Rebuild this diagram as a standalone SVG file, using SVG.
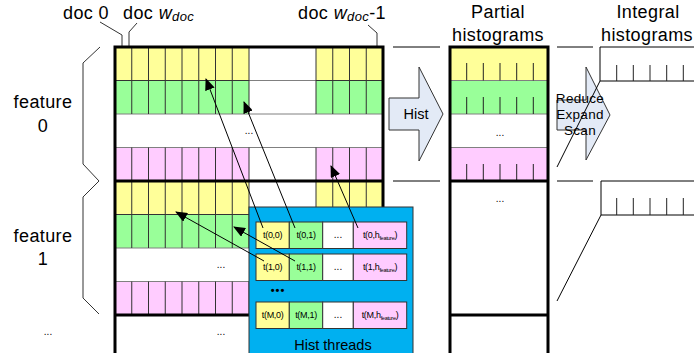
<svg xmlns="http://www.w3.org/2000/svg" width="694" height="353" viewBox="0 0 694 353">
<defs>
<style>
text{font-family:"Liberation Sans",Arial,sans-serif;fill:#000}
.big{font-size:18px;letter-spacing:0.4px}
.y{fill:#FFFF99}.g{fill:#99FF99}.p{fill:#FFCCFF}
.cell{stroke:#333;stroke-width:1}
.sep{stroke:#808080;stroke-width:1;fill:none}
.thick{stroke:#000;stroke-width:3;fill:none}
.thin{stroke:#000;stroke-width:1;fill:none}
.tick{stroke:#222;stroke-width:1}
.lead{stroke:#333;stroke-width:1;fill:none}
.dots{font-size:10px}
.tc{font-size:9px;text-anchor:middle;letter-spacing:-0.3px}
.sub{font-size:5.5px}
.arr{fill:#E3EAF6;stroke:#333;stroke-width:1}
.conn{stroke:#000;stroke-width:1;fill:none;marker-end:url(#ah)}
</style>
<marker id="ah" markerWidth="12" markerHeight="10" refX="11" refY="5" orient="auto" markerUnits="userSpaceOnUse">
<path d="M0,0 L12,5 L0,10 z" fill="#000"/>
</marker>
</defs>
<rect width="694" height="353" fill="#fff"/>

<g id="labels">
<text class="big" x="63" y="19">doc 0</text>
<text class="big" x="123" y="19">doc <tspan font-style="italic">w</tspan><tspan font-style="italic" font-size="13" dy="2">doc</tspan></text>
<text class="big" x="298" y="19">doc <tspan font-style="italic">w</tspan><tspan font-style="italic" font-size="13" dy="2">doc</tspan><tspan dy="-2">-1</tspan></text>
<text class="big" x="43" y="108" text-anchor="middle">feature</text>
<text class="big" x="43" y="131.5" text-anchor="middle">0</text>
<text class="big" x="43" y="241.5" text-anchor="middle">feature</text>
<text class="big" x="43" y="265" text-anchor="middle">1</text>
<text class="dots" x="48" y="335" text-anchor="middle">...</text>
<text class="big" x="498" y="18" text-anchor="middle">Partial</text>
<text class="big" x="498" y="41" text-anchor="middle">histograms</text>
<text class="big" x="648" y="18" text-anchor="middle">Integral</text>
<text class="big" x="647" y="41" text-anchor="middle" letter-spacing="0">histograms</text>
<path class="lead" d="M100,22 L122,35 V57 M137,23 L129,32 V89 M368,25 L377,33 V58"/>
<path class="lead" d="M100,47 L83,63 V164 L99,181 L83,197 V298 L99,314"/>
</g>

<g id="doc-grid">
<rect class="y" x="115" y="47" width="134" height="33.5"/><rect class="y" x="316" y="47" width="67" height="33.5"/>
<rect class="g" x="115" y="80.5" width="134" height="33.5"/><rect class="g" x="316" y="80.5" width="67" height="33.5"/>
<rect class="p" x="115" y="147.5" width="134" height="33.5"/><rect class="p" x="316" y="147.5" width="67" height="33.5"/>
<rect class="y" x="115" y="181" width="134" height="33.5"/><rect class="y" x="316" y="181" width="67" height="33.5"/>
<rect class="g" x="115" y="214.5" width="134" height="33.5"/><rect class="g" x="316" y="214.5" width="67" height="33.5"/>
<rect class="p" x="115" y="281.5" width="134" height="33.5"/><rect class="p" x="316" y="281.5" width="67" height="33.5"/>
<path class="sep" d="M115,80.5 H383 M115,114 H383 M115,147.5 H383 M115,214.5 H383 M115,248 H383 M115,281.5 H383"/>
<path class="cell" d="M131.75,47 V114 M148.5,47 V114 M165.25,47 V114 M182,47 V114 M198.75,47 V114 M215.5,47 V114 M232.25,47 V114 M249,47 V114
M131.75,147.5 V248 M148.5,147.5 V248 M165.25,147.5 V248 M182,147.5 V248 M198.75,147.5 V248 M215.5,147.5 V248 M232.25,147.5 V248 M249,147.5 V248
M131.75,281.5 V315 M148.5,281.5 V315 M165.25,281.5 V315 M182,281.5 V315 M198.75,281.5 V315 M215.5,281.5 V315 M232.25,281.5 V315 M249,281.5 V315
M316,47 V114 M332.75,47 V114 M349.5,47 V114 M366.25,47 V114
M316,147.5 V248 M332.75,147.5 V248 M349.5,147.5 V248 M366.25,147.5 V248
M316,281.5 V315 M332.75,281.5 V315 M349.5,281.5 V315 M366.25,281.5 V315
M115,80.5 H249 M316,80.5 H383 M115,214.5 H249 M316,214.5 H383"/>
<path class="thick" d="M115,353 V47 H383 V353 M115,181 H383 M115,315 H383"/>
<text class="dots" x="249" y="134" text-anchor="middle">...</text>
<text class="dots" x="221" y="268" text-anchor="middle">...</text>
<text class="dots" x="221" y="335" text-anchor="middle">...</text>
</g>

<g id="hist-arrow">
<polygon class="arr" points="389,98 419,98 419,67 443,114 419,161 419,130 389,130"/>
<text x="416" y="119" font-size="14.5" text-anchor="middle">Hist</text>
</g>
<path class="thin" d="M393,47 H440 M393,181 H440"/>

<g id="partial-histograms">
<rect class="y" x="450" y="47" width="98" height="33.5"/>
<rect class="g" x="450" y="80.5" width="98" height="33.5"/>
<rect class="p" x="450" y="147.5" width="98" height="33.5"/>
<path class="sep" d="M450,80.5 H548 M450,114 H548 M450,147.5 H548"/>
<path class="tick" d="M466.7,63 V80.5 M483.3,63 V80.5 M500,63 V80.5 M516.7,63 V80.5 M533.3,63 V80.5
M466.7,97 V114 M483.3,97 V114 M500,97 V114 M516.7,97 V114 M533.3,97 V114
M466.7,164 V181 M483.3,164 V181 M500,164 V181 M516.7,164 V181 M533.3,164 V181"/>
<path class="thick" d="M450,353 V47 H548 V353 M450,181 H548 M450,315 H548"/>
<text class="dots" x="500" y="136" text-anchor="middle">...</text>
<text class="dots" x="500" y="202" text-anchor="middle">...</text>
</g>

<g id="reduce-arrow">
<polygon class="arr" points="557,100 586,100 586,67 610,115 586,160 586,130 557,130"/>
<text x="580" y="102.5" font-size="13.5" text-anchor="middle" letter-spacing="0.3">Reduce</text>
<text x="580" y="118.5" font-size="13.5" text-anchor="middle" letter-spacing="0.3">Expand</text>
<text x="580" y="134.5" font-size="13.5" text-anchor="middle" letter-spacing="0.3">Scan</text>
</g>
<path class="thin" d="M557,47 H593 M557,181 H593 M557,167 L600,81 M557,301 L601,215"/>

<g id="integral-histograms">
<path class="thin" d="M600,81 V47 H694 M600,81 H694 M601,215 V181 H694 M601,215 H694"/>
<path class="tick" d="M616.7,65 V81 M633.3,65 V81 M650,65 V81 M666.7,65 V81 M683.3,65 V81
M616.7,198 V215 M633.3,198 V215 M650,198 V215 M666.7,198 V215 M683.3,198 V215"/>
</g>

<g id="hist-threads">
<rect x="249" y="207" width="164" height="160" fill="#00B0F0" stroke="#333" stroke-width="1"/>
<g class="cell">
<rect class="y" x="256" y="222" width="33.3" height="26.5"/><rect class="g" x="289.3" y="222" width="33.4" height="26.5"/><rect x="322.7" y="222" width="30.6" height="26.5" fill="#fff"/><rect class="p" x="353.3" y="222" width="53.4" height="26.5"/>
<rect class="y" x="256" y="254" width="33.3" height="26.5"/><rect class="g" x="289.3" y="254" width="33.4" height="26.5"/><rect x="322.7" y="254" width="30.6" height="26.5" fill="#fff"/><rect class="p" x="353.3" y="254" width="53.4" height="26.5"/>
<rect class="y" x="256" y="302" width="33.3" height="26.5"/><rect class="g" x="289.3" y="302" width="33.4" height="26.5"/><rect x="322.7" y="302" width="30.6" height="26.5" fill="#fff"/><rect class="p" x="353.3" y="302" width="53.4" height="26.5"/>
</g>
<text class="tc" x="272.6" y="238">t(0,0)</text><text class="tc" x="306" y="238">t(0,1)</text><text class="dots" x="338" y="238" text-anchor="middle">...</text><text class="tc" x="380" y="238">t(0,h<tspan class="sub" dy="1.5">feature</tspan><tspan dy="-1.5">)</tspan></text>
<text class="tc" x="272.6" y="270">t(1,0)</text><text class="tc" x="306" y="270">t(1,1)</text><text class="dots" x="338" y="270" text-anchor="middle">...</text><text class="tc" x="380" y="270">t(1,h<tspan class="sub" dy="1.5">feature</tspan><tspan dy="-1.5">)</tspan></text>
<text class="tc" x="272.6" y="318">t(M,0)</text><text class="tc" x="306" y="318">t(M,1)</text><text class="dots" x="338" y="318" text-anchor="middle">...</text><text class="tc" x="380" y="318">t(M,h<tspan class="sub" dy="1.5">feature</tspan><tspan dy="-1.5">)</tspan></text>
<text x="278" y="294" font-size="11" font-weight="bold" text-anchor="middle" letter-spacing="1">•••</text>
<text x="333" y="350" font-size="14.5" text-anchor="middle">Hist threads</text>
</g>

<g id="connectors">
<path class="conn" d="M263,228 L206,79"/>
<path class="conn" d="M295,228 L244,102"/>
<path class="conn" d="M358,228 L331,166"/>
<path class="conn" d="M264,261 L176,212"/>
<path class="conn" d="M295,261 L234,227"/>
</g>
</svg>
